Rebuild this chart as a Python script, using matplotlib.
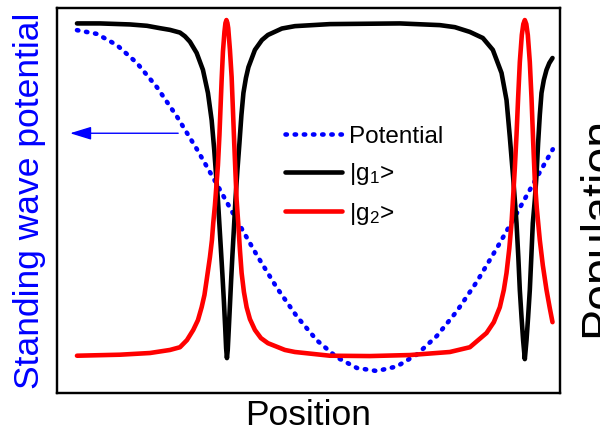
import matplotlib
matplotlib.use('Agg')
import matplotlib.pyplot as plt

plt.rcParams['font.family'] = ['Liberation Sans', 'DejaVu Sans']
plt.rcParams['mathtext.fontset'] = 'custom'
plt.rcParams['mathtext.rm'] = 'Liberation Sans'
plt.rcParams['mathtext.it'] = 'Liberation Sans:italic'

# standing wave potential (arb. units)
pot_x = [0, 20, 40, 60, 80, 100, 120, 140, 160, 180, 200, 220, 240, 260,
         280, 300, 320, 340, 360, 380, 400, 420, 440, 460, 476]
pot_v = [1.000, 0.978, 0.912, 0.807, 0.665, 0.493, 0.301, 0.095, -0.116,
         -0.321, -0.512, -0.680, -0.820, -0.920, -0.982, -1.000, -0.973,
         -0.903, -0.794, -0.649, -0.476, -0.279, -0.074, 0.136, 0.301]

# population of |g1>
g1_x = [0, 23, 53, 70, 83, 93, 103, 108, 113, 119.7, 126, 131, 134.7, 137.3,
        139.5, 141, 142.5, 144, 145.5, 147, 148.3, 149.2, 150, 150.8, 151.8,
        153, 154.2, 155.5, 157, 158.5, 160.5, 162.5, 164.5, 166.5, 169, 171.5,
        178, 185, 191, 205, 218, 253, 323, 363, 378, 393, 406, 416, 424.7,
        429.7, 433, 436.3, 438, 439.7, 441.5, 443, 444.7, 446.3, 448, 449.7,
        451.3, 453, 454.5, 456, 458, 459.7, 461.3, 463, 464.7, 467, 469.7,
        472.5, 475.7]
g1_p = [0.990, 0.990, 0.987, 0.983, 0.976, 0.971, 0.963, 0.952, 0.936,
        0.903, 0.853, 0.785, 0.705, 0.617, 0.528, 0.469, 0.395, 0.322, 0.248,
        0.168, 0.091, 0.032, 0.003, 0.027, 0.086, 0.159, 0.233, 0.307, 0.386,
        0.469, 0.558, 0.637, 0.720, 0.785, 0.829, 0.861, 0.912, 0.941, 0.956,
        0.975, 0.982, 0.988, 0.990, 0.985, 0.979, 0.965, 0.947, 0.912, 0.844,
        0.764, 0.655, 0.537, 0.469, 0.401, 0.301, 0.204, 0.124, 0.056, 0.000,
        0.056, 0.124, 0.204, 0.301, 0.401, 0.469, 0.543, 0.637, 0.720, 0.785,
        0.823, 0.853, 0.873, 0.888]

# population of |g2>
g2_x = [0, 43, 73, 93, 103, 110, 116.3, 121, 124.7, 127.5, 129.7, 133, 135,
        136.3, 138, 139.5, 141, 142.5, 143.5, 144.7, 146, 147.5, 148.5, 149.5,
        150.5, 151.3, 153, 154.7, 156, 157.3, 158.5, 159.7, 161.3, 163, 164.7,
        167, 169.7, 173, 178, 184, 191, 208, 218, 253, 293, 333, 373, 393,
        409.7, 417, 423, 427, 429.7, 432.5, 434.7, 436.3, 438, 439.7, 441.3,
        443, 445, 446.5, 448, 449.5, 451, 453, 454.7, 456.3, 458, 460, 463,
        466, 469.7, 473, 475.7]
g2_p = [0.010, 0.013, 0.018, 0.027, 0.035, 0.056, 0.086, 0.115, 0.153,
        0.189, 0.233, 0.301, 0.351, 0.401, 0.454, 0.513, 0.572, 0.661, 0.735,
        0.823, 0.906, 0.965, 0.991, 1.000, 0.991, 0.976, 0.912, 0.832, 0.735,
        0.637, 0.552, 0.469, 0.401, 0.322, 0.254, 0.198, 0.153, 0.118, 0.086,
        0.062, 0.047, 0.027, 0.021, 0.010, 0.009, 0.012, 0.021, 0.035, 0.077,
        0.109, 0.153, 0.204, 0.254, 0.327, 0.401, 0.478, 0.563, 0.661, 0.770,
        0.876, 0.956, 0.988, 1.000, 0.988, 0.956, 0.876, 0.770, 0.646, 0.528,
        0.445, 0.351, 0.277, 0.204, 0.150, 0.109]

fig = plt.figure(figsize=(6, 4.3), dpi=100)
ax = fig.add_axes([0.095, 0.086, 0.838, 0.895])
ax2 = ax.twinx()

pot_line, = ax.plot(pot_x, pot_v, color='blue', lw=3.3,
                    linestyle=(0, (0.3, 1.7)), dash_capstyle='round',
                    label='Potential')
g1_line, = ax2.plot(g1_x, g1_p, color='black', lw=3.3, label=r'|g$_1$>',
                    solid_capstyle='round', solid_joinstyle='round')
g2_line, = ax2.plot(g2_x, g2_p, color='red', lw=3.3, label=r'|g$_2$>',
                    solid_capstyle='round', solid_joinstyle='round')

ax.set_xlim(-20, 483)
ax.set_ylim(-1.129, 1.129)
ax2.set_ylim(-0.100, 1.035)
for a in (ax, ax2):
    a.set_xticks([])
    a.set_yticks([])
    for s in a.spines.values():
        s.set_linewidth(1.6)

ax.set_xlabel('Position', fontsize=25.5, labelpad=4)
ax.set_ylabel('Standing wave potential', fontsize=25.5, color='blue',
              labelpad=8)
# right-hand label is bigger and sits lower, partly off the edge
fig.text(0.962, 0.472, 'Population', fontsize=33.5, rotation=90,
         ha='left', va='center')

# arrow showing which axis the potential belongs to
ax.annotate('', xy=(0.026, 0.675), xytext=(0.241, 0.675),
            xycoords='axes fraction',
            arrowprops=dict(arrowstyle='-|>,head_length=0.65,head_width=0.2',
                            color='blue', lw=1, mutation_scale=20,
                            shrinkA=0, shrinkB=0))

ax2.legend(handles=[pot_line, g1_line, g2_line], loc='upper left',
           bbox_to_anchor=(0.453, 0.694), frameon=False, fontsize=17.5,
           handlelength=2.35, handletextpad=0.3, labelspacing=0.55,
           borderpad=0, borderaxespad=0)

fig.savefig('out.png', dpi=100)
